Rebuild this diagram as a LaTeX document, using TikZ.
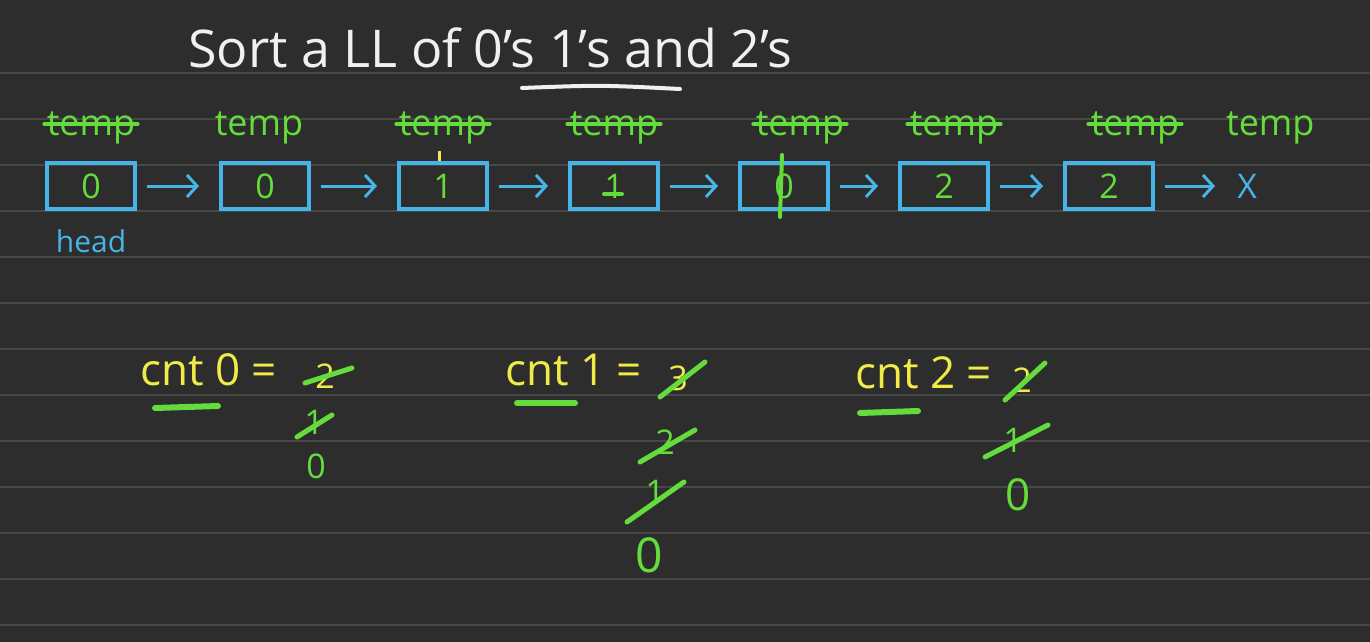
\documentclass[tikz,border=0pt]{standalone}
\usepackage{fontspec}
\setmainfont{Open Sans}
\usepackage{xcolor}
\definecolor{board}{HTML}{2D2D2D}
\definecolor{rule1}{HTML}{474747}
\definecolor{chalk}{HTML}{F0F0F0}
\definecolor{green1}{HTML}{64DC3C}
\definecolor{blue1}{HTML}{46B4E6}
\definecolor{yellow1}{HTML}{F0EB46}
\usetikzlibrary{arrows.meta, positioning, calc}

\begin{document}
\begin{tikzpicture}[
  x=0.5pt, y=-0.5pt,
  cell/.style   = {draw=blue1, line width=2pt, text=green1,
                   minimum width=44pt, minimum height=23pt,
                   font=\fontsize{17}{20}\selectfont, inner sep=0pt},
  tmp/.style    = {text=green1, font=\fontsize{18}{20}\selectfont, inner sep=1pt},
  link/.style   = {draw=blue1, line width=1.5pt,
                   -{Straight Barb[length=5pt,width=11pt]},
                   shorten <=5pt, shorten >=10pt},
  strike/.style = {draw=green1, line width=2.5pt, line cap=round},
  uline/.style  = {draw=green1, line width=3pt, line cap=round},
  cnt/.style    = {text=yellow1, font=\fontsize{22}{26}\selectfont,
                   inner sep=0pt, anchor=base west},
  val/.style    = {text=#1, font=\fontsize{17}{20}\selectfont, inner sep=1pt},
  val/.default  = green1,
  node distance = 40pt
]
% board with ruled lines
\fill[board] (0,0) rectangle (1370,642);
\useasboundingbox (0,0) rectangle (1370,642);
\foreach \k in {0,...,12}
  \draw[rule1, line width=1pt] (0,73+46*\k) -- (1370,73+46*\k);

% heading
\node[text=chalk, font=\fontsize{26}{30}\selectfont, anchor=base west,
      inner sep=0pt] (title) at (188,68) {Sort a LL of 0's 1's and 2's};
\draw[chalk, line width=2pt, line cap=round] (522,88) .. controls (600,85) .. (680,89);

% the list
\node[cell]                    (b1) at (91,186) {0};
\node[cell, right=41pt of b1]  (b2) {0};
\node[cell, right=43pt of b2]  (b3) {1};
\node[cell, right=39.5pt of b3] (b4) {1};
\node[cell, right=39pt of b4]  (b5) {0};
\node[cell, right=34pt of b5]  (b6) {2};
\node[cell, right=36.5pt of b6] (b7) {2};
\node[text=blue1, font=\fontsize{17}{20}\selectfont, inner sep=1pt,
      right=40pt of b7]        (nil) {X};
\foreach \a/\b in {b1/b2, b2/b3, b3/b4, b4/b5, b5/b6, b6/b7, b7/nil}
  \draw[link] (\a) -- (\b);

\node[text=blue1, font=\fontsize{15}{18}\selectfont, inner sep=1pt,
      below=8pt of b1]         (head) {head};

% overwritten values
\draw[strike, line width=2pt] ([xshift=-5pt,yshift=-4pt]b4.center) -- ([xshift=4pt,yshift=-4pt]b4.center);
\draw[strike, line width=2pt] ([xshift=-1pt,yshift=3pt]b5.north) -- ([xshift=-2pt,yshift=-3pt]b5.south);
\draw[yellow1, line width=1.5pt] ([xshift=-2pt,yshift=5pt]b3.north) -- ([xshift=-2pt]b3.north);

% temp pointer
\node[tmp, above=7pt of b1]             (t1) {temp};
\node[tmp, above=7pt of b2, xshift=-3pt] (t2) {temp};
\node[tmp, above=7pt of b3]             (t3) {temp};
\node[tmp, above=7pt of b4]             (t4) {temp};
\node[tmp, above=7pt of b5, xshift=8pt] (t5) {temp};
\node[tmp, above=7pt of b6, xshift=5pt] (t6) {temp};
\node[tmp, above=7pt of b7, xshift=13pt] (t7) {temp};
\node[tmp, right=21pt of t7]            (t8) {temp};
\foreach \t in {t1,t3,t4,t5,t6,t7}
  \draw[strike, line width=2pt] ([yshift=6pt]\t.base west) -- ([yshift=6pt]\t.base east);

% counters
\node[cnt] (k0) at (140,385) {cnt 0 =};
\node[cnt] (k1) at (505,385) {cnt 1 =};
\node[cnt] (k2) at (855,388) {cnt 2 =};
\draw[uline] ($(k0.base west)+(15,23)$) -- ++(63,-2);
\draw[uline] ($(k1.base west)+(12,18)$) -- ++(58,0);
\draw[uline] ($(k2.base west)+(5,25)$) -- ++(58,-2);

\node[val=yellow1] (c0a) at (325,376) {2};
\node[val]         (c0b) at (314,422) {1};
\node[val]         (c0c) at (316,466) {0};
\node[val=yellow1] (c1a) at (678,378) {3};
\node[val]         (c1b) at (665,442) {2};
\node[val]         (c1c) at (655,492) {1};
\node[val, font=\fontsize{24}{28}\selectfont] (c1d) at (649,555) {0};
\node[val=yellow1] (c2a) at (1022,380) {2};
\node[val]         (c2b) at (1013,440) {1};
\node[val, font=\fontsize{22}{26}\selectfont] (c2c) at (1018,495) {0};

\draw[strike] ($(c0a)+(-20,7)$) -- ($(c0a)+(27,-8)$);
\draw[strike] ($(c0b)+(-17,15)$) -- ($(c0b)+(18,-7)$);
\draw[strike] ($(c1a)+(-18,19)$) -- ($(c1a)+(27,-16)$);
\draw[strike] ($(c1b)+(-25,20)$) -- ($(c1b)+(30,-12)$);
\draw[strike] ($(c1c)+(-28,30)$) -- ($(c1c)+(29,-10)$);
\draw[strike] ($(c2a)+(-17,20)$) -- ($(c2a)+(23,-17)$);
\draw[strike] ($(c2b)+(-28,17)$) -- ($(c2b)+(35,-15)$);

\end{tikzpicture}
\end{document}
